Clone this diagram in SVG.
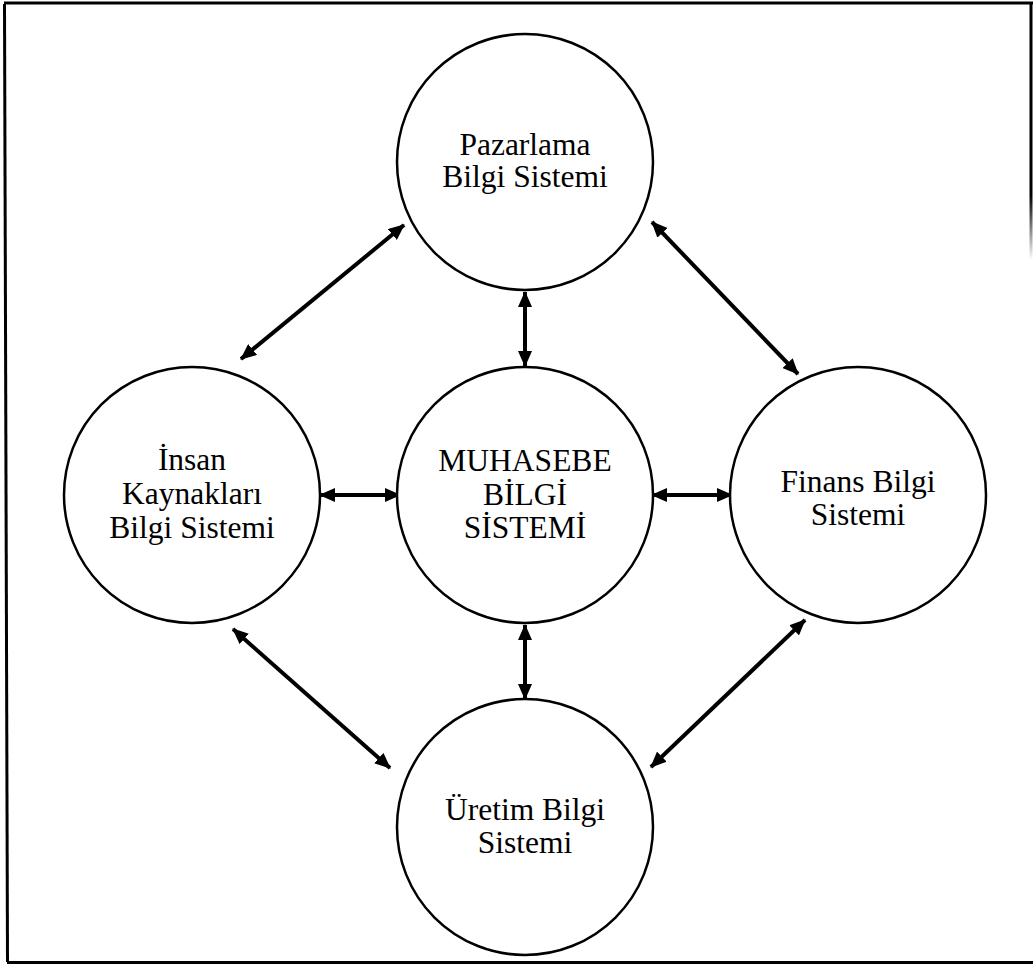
<svg xmlns="http://www.w3.org/2000/svg" width="1033" height="965" viewBox="0 0 1033 965">
  <defs>
    <marker id="head" viewBox="0 0 16 14" refX="15" refY="7" markerWidth="16" markerHeight="14" markerUnits="userSpaceOnUse" orient="auto-start-reverse">
      <path d="M0,0 L16,7 L0,14 Z" fill="#000"/>
    </marker>
    <linearGradient id="edgeFade" x1="0" y1="0" x2="0" y2="1">
      <stop offset="0" stop-color="#000"/>
      <stop offset="0.75" stop-color="#000"/>
      <stop offset="1" stop-color="#fff"/>
    </linearGradient>
    <style>
      .node { fill: #fff; stroke: #000; stroke-width: 2.5; }
      .label { font-family: "Liberation Serif", "Times New Roman", serif; font-size: 31.5px; fill: #000; text-anchor: middle; }
      .link { stroke: #000; stroke-width: 4; fill: none; marker-start: url(#head); marker-end: url(#head); }
      .frame { stroke: #000; stroke-width: 3; fill: none; }
    </style>
  </defs>
  <rect width="1033" height="965" fill="#fff"/>

  <!-- outer frame -->
  <g id="frame">
    <line class="frame" x1="4" y1="3" x2="1033" y2="3"/>
    <line class="frame" x1="4.5" y1="4" x2="7.5" y2="962"/>
    <line class="frame" x1="7" y1="962.5" x2="1033" y2="962.5"/>
    <rect x="1029.5" y="2" width="3" height="258" fill="url(#edgeFade)"/>
  </g>

  <!-- connectors -->
  <g id="connectors">
    <line class="link" x1="525" y1="292" x2="525" y2="366"/>
    <line class="link" x1="525" y1="625" x2="525" y2="699"/>
    <line class="link" x1="320" y1="495" x2="400" y2="495"/>
    <line class="link" x1="652" y1="495" x2="732" y2="495"/>
    <line class="link" x1="404" y1="225" x2="241" y2="359"/>
    <line class="link" x1="652" y1="222" x2="798" y2="374"/>
    <line class="link" x1="233" y1="629" x2="390" y2="768"/>
    <line class="link" x1="805" y1="620" x2="651" y2="767"/>
  </g>

  <g id="pazarlama">
    <circle class="node" cx="525" cy="162" r="128"/>
    <text class="label" x="525" y="155">Pazarlama</text>
    <text class="label" x="525" y="187">Bilgi Sistemi</text>
  </g>

  <g id="muhasebe">
    <circle class="node" cx="525" cy="495" r="128"/>
    <text class="label" x="525" y="471">MUHASEBE</text>
    <text class="label" x="525" y="504.5">BİLGİ</text>
    <text class="label" x="525" y="538">SİSTEMİ</text>
  </g>

  <g id="insan-kaynaklari">
    <circle class="node" cx="192" cy="495" r="128"/>
    <text class="label" x="192" y="470">İnsan</text>
    <text class="label" x="192" y="503.5">Kaynakları</text>
    <text class="label" x="192" y="538">Bilgi Sistemi</text>
  </g>

  <g id="finans">
    <circle class="node" cx="858" cy="495" r="128"/>
    <text class="label" x="858" y="492">Finans Bilgi</text>
    <text class="label" x="858" y="525">Sistemi</text>
  </g>

  <g id="uretim">
    <circle class="node" cx="525" cy="827" r="128"/>
    <text class="label" x="525" y="820">Üretim Bilgi</text>
    <text class="label" x="525" y="853">Sistemi</text>
  </g>
</svg>
